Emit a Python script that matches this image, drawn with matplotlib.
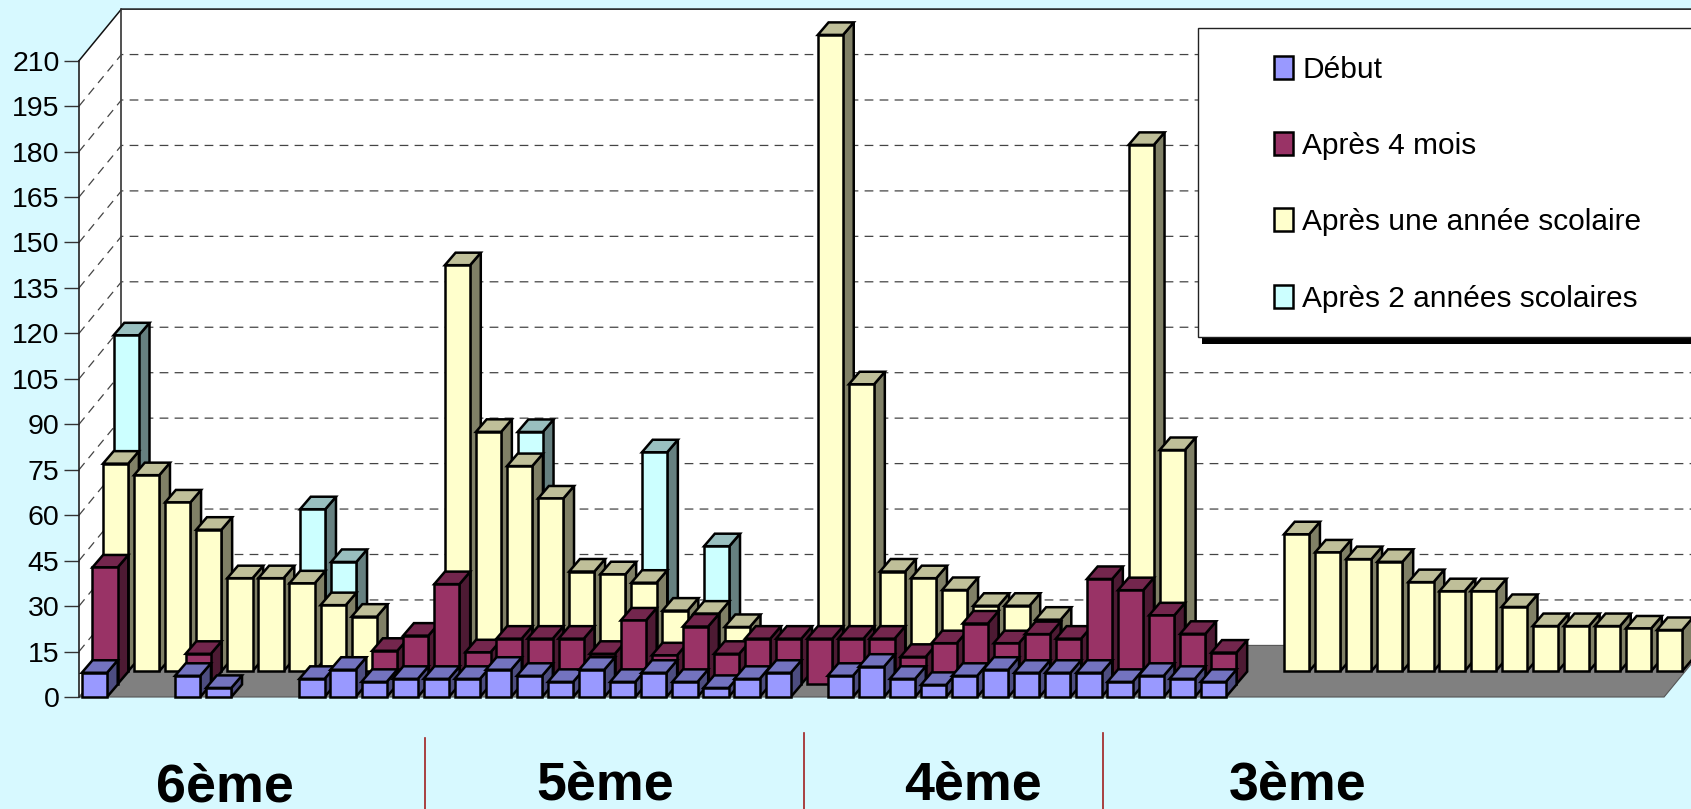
from matplotlib import pyplot as plt
from matplotlib.patches import Polygon, Rectangle, Patch
from matplotlib.lines import Line2D

plt.rcParams['font.family'] = ['Liberation Sans', 'DejaVu Sans']

N = None
debut = [8, N, N, 7, 3, N, N, 6, 9, 5, 6, 6, 6, 9, 7, 5, 9, 5, 8, 5, 3, 6, 8, N, 7, 10, 6, 4, 7, 9, 8, 8, 8, 5, 7, 6, 5,
         N, N, N, N, N, N, N, N, N, N, N, N, N, N]
quatre_mois = [38.5, N, N, 10, N, N, N, N, N, 11, 16, 33, 10.5, 15, 15, 15, 10, 21, 9.5, 19, 10, 15, 15, 15, 15, 15, 9,
               13.5, 20, 13.5, 16.5, 15, 34.7, 31, 22.7, 16.6, 10.4,
               N, N, N, N, N, N, N, N, N, N, N, N, N, N]
une_annee = [68.5, 64.7, 55.7, 46.7, 30.7, 30.7, 29, 21.8, 18, N, N, 134, 79, 67.7, 57, 32.9, 32, 29.2, 20, 19, 14.6, N, N,
             210, 94.7, 32.9, 30.7, 26.8, 21.6, 21.6, 17, N, N, 173.7, 73, N, N, N,
             45.2, 39.2, 37, 36.1, 29.4, 26.4, 26.4, 21.2, 14.9, 14.9, 14.9, 14.1, 13.6]
deux_annees = [106.6, N, N, N, N, N, 49.2, 31.8, N, N, N, N, N, 74.7, N, N, N, 68, N, 37, N, N, N, N, N, N, N, N, N, N, N,
               N, N, N, N, N, N, N, N, N, N, N, N, N, N, N, N, N, N, N, N]

series_names = ['Début', 'Après 4 mois', 'Après une année scolaire', 'Après 2 années scolaires']
series_values = [debut, quatre_mois, une_annee, deux_annees]
# front, top, side
series_colors = [('#9999FF', '#7373BF', '#4D4D80'),
                 ('#993366', '#73264D', '#4D1A33'),
                 ('#FFFFCC', '#BFBF99', '#808066'),
                 ('#CCFFFF', '#99BFBF', '#668080')]
y_ticks = list(range(0, 211, 15))
level_names = ['6ème', '5ème', '4ème', '3ème']
level_x = [225, 605, 973, 1298]
level_y = [787, 785, 785, 785]
separator_x = [425, 804, 1102.5]
separator_top = [738, 733, 733]

W, H = 1691, 809
BG = '#D7F9FF'
N_CAT = len(debut)
PX_X = 31.08
PX_Y = 3.03

# depth of one series row, in data units
ROW_DX = 10.6 / PX_X
ROW_DY = 12.9 / PX_Y
BAR_DX = 10.7 / PX_X
BAR_DY = 12.5 / PX_Y
BAR_X0 = 2.8 / PX_X
BAR_W = 25.2 / PX_X
WALL_DX = 4 * ROW_DX
WALL_DY = 4 * ROW_DY

fig = plt.figure(figsize=(W / 100, H / 100), dpi=100, facecolor=BG)
ax = fig.add_axes([79 / W, 1 - 697 / H, N_CAT * PX_X / W, 210 * PX_Y / H])
ax.set_xlim(0, N_CAT)
ax.set_ylim(0, 210)
ax.patch.set_visible(False)
for s in ['top', 'right', 'bottom']:
    ax.spines[s].set_visible(False)
ax.spines['left'].set_color('#222222')
ax.spines['left'].set_linewidth(1.2)
ax.set_xticks([])
ax.set_yticks(y_ticks)
ax.tick_params(axis='y', length=11, width=1.0, color='#333333', pad=3, labelsize=20.5)

# walls and floor
ax.add_patch(Polygon([(0, 0), (WALL_DX, WALL_DY), (WALL_DX, 210 + WALL_DY), (0, 210)],
                     facecolor='white', edgecolor='none', clip_on=False, zorder=0))
ax.add_patch(Polygon([(WALL_DX, WALL_DY), (N_CAT + WALL_DX, WALL_DY), (N_CAT + WALL_DX, 210 + WALL_DY),
                      (WALL_DX, 210 + WALL_DY)],
                     facecolor='white', edgecolor='none', clip_on=False, zorder=0))
ax.add_patch(Polygon([(0, 0), (N_CAT, 0), (N_CAT + WALL_DX, WALL_DY), (WALL_DX, WALL_DY)],
                     facecolor='#808080', edgecolor='#555555', linewidth=0.8, clip_on=False, zorder=1))
ax.plot([0, WALL_DX, N_CAT + WALL_DX], [210, 210 + WALL_DY, 210 + WALL_DY], color='#111111', lw=1.1,
        clip_on=False, zorder=1)
ax.plot([WALL_DX, WALL_DX], [WALL_DY, 210 + WALL_DY], color='#333333', lw=1.2, clip_on=False, zorder=1)

for t in y_ticks[1:-1]:
    ax.plot([0, WALL_DX, N_CAT + WALL_DX], [t, t + WALL_DY, t + WALL_DY], color='#444444', lw=0.9,
            dashes=(7, 5), clip_on=False, zorder=1)

z = 2
for row in [3, 2, 1, 0]:
    front, top, side = series_colors[row]
    for i, v in enumerate(series_values[row]):
        if v is None:
            continue
        x0 = i + BAR_X0 + row * ROW_DX
        x1 = x0 + BAR_W
        y0 = row * ROW_DY
        y1 = y0 + v
        ax.add_patch(Polygon([(x1, y0), (x1 + BAR_DX, y0 + BAR_DY), (x1 + BAR_DX, y1 + BAR_DY), (x1, y1)],
                             facecolor=side, edgecolor='black', linewidth=1.8, joinstyle='miter',
                             clip_on=False, zorder=z))
        ax.add_patch(Polygon([(x0, y1), (x1, y1), (x1 + BAR_DX, y1 + BAR_DY), (x0 + BAR_DX, y1 + BAR_DY)],
                             facecolor=top, edgecolor='black', linewidth=1.8, joinstyle='miter',
                             clip_on=False, zorder=z))
        ax.add_patch(Polygon([(x0, y0), (x1, y0), (x1, y1), (x0, y1)],
                             facecolor=front, edgecolor='black', linewidth=1.8, joinstyle='miter',
                             clip_on=False, zorder=z))
        z += 1

# legend box, runs past the right edge like in the original
fig.add_artist(Rectangle((1202 / W, 1 - 344 / H), 600 / W, 300 / H, transform=fig.transFigure,
                         facecolor='black', edgecolor='none', zorder=z + 1))
fig.add_artist(Rectangle((1198 / W, 1 - 337 / H), 600 / W, 309 / H, transform=fig.transFigure,
                         facecolor='white', edgecolor='#222222', linewidth=1.0, zorder=z + 2))
handles = [Patch(facecolor=series_colors[k][0], edgecolor='black', linewidth=1.8) for k in range(4)]
leg = fig.legend(handles, series_names, loc='upper left', bbox_to_anchor=(1274 / W, 1 - 55.5 / H), frameon=False,
                 fontsize=21.5, borderpad=0, borderaxespad=0, handlelength=0.62, handleheight=0.8,
                 handletextpad=0.32, labelspacing=1.62)
leg.set_zorder(z + 3)

for name, x, y in zip(level_names, level_x, level_y):
    fig.text(x / W, 1 - y / H, name, fontsize=38.7, fontweight='bold', ha='center', va='center', color='black')
for x, t in zip(separator_x, separator_top):
    fig.add_artist(Line2D([x / W, x / W], [1 - t / H, 0], color='#A02020', lw=1.2))

fig.savefig('out.png', dpi=100, facecolor=BG)
